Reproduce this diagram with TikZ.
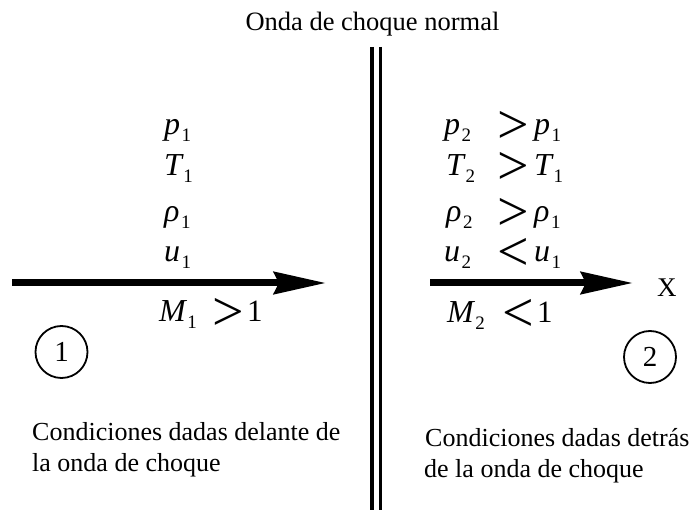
\documentclass[tikz,border=0pt]{standalone}
\usepackage{fontspec}
\setmainfont{Liberation Serif}
\usetikzlibrary{arrows.meta}
\newcommand\sbs[1]{\kern1.5pt\raisebox{-7pt}{\fontsize{19}{19}\selectfont\upshape #1}}
\newcommand\rl[1]{\smash{\raisebox{-9pt}{#1}}}
\begin{document}
\begin{tikzpicture}[x=1pt,y=-1pt,
  lbl/.style={inner sep=0pt,anchor=base west,font=\fontsize{26}{26}\selectfont},
  var/.style={inner sep=0pt,anchor=base west,font=\fontsize{32}{32}\selectfont\itshape},
  num/.style={inner sep=0pt,anchor=base west,font=\fontsize{31}{31}\selectfont},
  rel/.style={inner sep=0pt,anchor=base west,font=\fontsize{56}{56}\selectfont},
  flow/.style={line width=7pt,-{Stealth[length=52pt,width=22pt,inset=5pt]}},
  state/.style={circle,draw,line width=1.8pt,minimum size=52pt,inner sep=0pt,font=\fontsize{29}{29}\selectfont}]
\useasboundingbox (0,0) rectangle (694,510);
% title
\node[inner sep=0pt,anchor=base,font=\fontsize{26.5}{26.5}\selectfont] (title) at (372.5,31) {Onda de choque normal};
% shock wave (double line)
\coordinate (s1t) at (372.2,47); \coordinate (s1b) at (372.2,510);
\coordinate (s2t) at (380.3,47); \coordinate (s2b) at (380.3,510);
\draw[line width=4.3pt] (s1t) -- (s1b);
\draw[line width=2.4pt] (s2t) -- (s2b);
% left side variables
\node[var] (p1) at (164,135) {p\sbs{1}};
\node[var] (T1) at (164,176) {T\sbs{1}};
\node[var] (r1) at (164,222) {ρ\sbs{1}};
\node[var] (u1) at (164,262) {u\sbs{1}};
\node[var] (M1) at (159,322) {M\sbs{1}};
\node[rel] (M1r) at (212,322) {\rl{>}};
\node[num] (M1n) at (247,322) {1};
% right side variables
\node[var] (p2) at (444,135) {p\sbs{2}};
\node[rel] (p2r) at (497,135) {\rl{>}};
\node[var] (p2b) at (534,135) {p\sbs{1}};
\node[var] (T2) at (446,176) {T\sbs{2}};
\node[rel] (T2r) at (497,176) {\rl{>}};
\node[var] (T2b) at (534,176) {T\sbs{1}};
\node[var] (r2) at (446,222) {ρ\sbs{2}};
\node[rel] (r2r) at (497,222) {\rl{>}};
\node[var] (r2b) at (534,222) {ρ\sbs{1}};
\node[var] (u2) at (444,262) {u\sbs{2}};
\node[rel] (u2r) at (497,262) {\rl{<}};
\node[var] (u2b) at (534,262) {u\sbs{1}};
\node[var] (M2) at (447,323) {M\sbs{2}};
\node[rel] (M2r) at (502,323) {\rl{<}};
\node[num] (M2n) at (537,323) {1};
% flow arrows
\coordinate (a1s) at (12,283); \coordinate (a1e) at (326,283);
\coordinate (a2s) at (430,283); \coordinate (a2e) at (633,283);
\draw[flow] (a1s) -- (a1e);
\draw[flow] (a2s) -- (a2e);
\node[inner sep=0pt,anchor=base west,font=\fontsize{27}{27}\selectfont] (X) at (657,297) {X};
% states
\node[state] (st1) at (61.5,352) {1};
\node[state] (st2) at (650,357) {2};
% captions
\node[lbl] (c1a) at (32,440.5) {Condiciones dadas delante de};
\node[lbl] (c1b) at (32,471.5) {la onda de choque};
\node[lbl] (c2a) at (425,446.5) {Condiciones dadas detrás};
\node[lbl] (c2b) at (424,478) {de la onda de choque};
\end{tikzpicture}
\end{document}
